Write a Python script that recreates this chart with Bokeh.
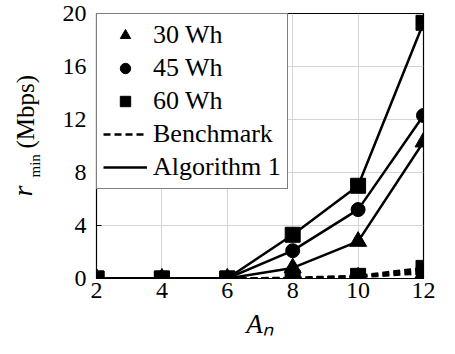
import math
from bokeh.plotting import figure
from bokeh.layouts import row
from bokeh.models import FixedTicker, Label, Legend, LegendItem, Range1d
from bokeh.embed import file_html
from bokeh.resources import INLINE

# ---- data ----
an = [2, 4, 6, 8, 10, 12]
alg_30 = [0, 0, 0, 0.8, 2.8, 10.3]
alg_45 = [0, 0, 0, 2.1, 5.2, 12.3]
alg_60 = [0, 0, 0, 3.3, 7.0, 19.3]
bench_30 = [0, 0, 0, 0.0, 0.1, 0.4]
bench_45 = [0, 0, 0, 0.02, 0.15, 0.6]
bench_60 = [0, 0, 0, 0.05, 0.2, 0.8]
x_ticks = [2, 4, 6, 8, 10, 12]
y_ticks = [0, 4, 8, 12, 16, 20]
series_labels = ["30 Wh", "45 Wh", "60 Wh"]
style_labels = ["Benchmark", "Algorithm 1"]
x_label = "A\u2099"

SERIF = "Liberation Serif"
YLAB_W = 48
P_W = 404
TOP_H = 350
BT, BB = 13, 72
FRAME_BOTTOM = TOP_H - BB

p = figure(width=P_W, height=TOP_H, output_backend="svg", toolbar_location=None,
           x_range=Range1d(2, 12), y_range=Range1d(0, 20),
           min_border_left=96 - YLAB_W, min_border_right=29, min_border_top=BT,
           min_border_bottom=BB)
p.background_fill_color = "white"
p.border_fill_color = "white"
p.outline_line_color = "black"
p.outline_line_width = 1.2

for ax in (p.xaxis, p.yaxis):
    ax.major_label_text_font = SERIF
    ax.major_label_text_font_size = "24px"
    ax.major_label_text_color = "black"
    ax.axis_line_color = "black"
    ax.major_tick_in = 5
    ax.major_tick_out = 0
    ax.minor_tick_line_color = None
    ax.major_tick_line_color = "black"
p.xaxis.ticker = FixedTicker(ticks=x_ticks)
p.yaxis.ticker = FixedTicker(ticks=y_ticks)
p.xaxis.major_label_standoff = 4
p.yaxis.major_label_standoff = 10
p.xaxis.axis_label = x_label
p.xaxis.axis_label_text_font = SERIF
p.xaxis.axis_label_text_font_style = "italic"
p.xaxis.axis_label_text_font_size = "27px"
p.xaxis.axis_label_text_color = "black"
p.xaxis.axis_label_standoff = 8

p.xgrid.ticker = FixedTicker(ticks=x_ticks)
p.ygrid.ticker = FixedTicker(ticks=y_ticks)
p.grid.grid_line_color = "#d4d4d4"
p.grid.grid_line_width = 1

markers = ["triangle", "circle", "square"]
sizes = [17, 14, 15]
LW = 2.5

bench_lines = []
for ys, m, s in zip([bench_30, bench_45, bench_60], markers, sizes):
    bench_lines.append(p.line(an, ys, line_color="black", line_width=LW, line_dash="7 4"))
    p.scatter(an, ys, marker=m, size=s, fill_color="black", line_color="black")
alg_lines = []
alg_marks = []
for ys, m, s in zip([alg_30, alg_45, alg_60], markers, sizes):
    alg_lines.append(p.line(an, ys, line_color="black", line_width=LW))
    alg_marks.append(p.scatter(an, ys, marker=m, size=s, fill_color="black",
                               line_color="black"))

leg_items = [LegendItem(label=lab, renderers=[r], index=0)
             for lab, r in zip(series_labels, alg_marks)]
leg_items.append(LegendItem(label=style_labels[0], renderers=[bench_lines[0]]))
leg_items.append(LegendItem(label=style_labels[1], renderers=[alg_lines[0]]))

legend = Legend(items=leg_items, location="top_left",
                label_text_font=SERIF, label_text_font_size="26px",
                label_text_color="black",
                label_height=26, glyph_height=26, glyph_width=44,
                label_standoff=6, spacing=3, padding=6, margin=0,
                border_line_color="black", border_line_width=1.2,
                background_fill_color="white", background_fill_alpha=1.0)
p.add_layout(legend, "center")

# y axis label strip: r_min (Mbps); its frame is aligned with the plot frame
yfig = figure(width=YLAB_W, height=TOP_H, output_backend="svg", toolbar_location=None,
              x_axis_type=None, y_axis_type=None, min_border=0,
              x_range=Range1d(0, 1), y_range=Range1d(0, 1))
yfig.outline_line_color = None
yfig.grid.visible = False
yfig.background_fill_color = "white"
yfig.border_fill_color = "white"


def ylab(text, base_x, start_y, size, style="normal"):
    yfig.add_layout(Label(x=base_x, y=FRAME_BOTTOM - start_y, x_units="screen",
                          y_units="screen", text=text, angle=math.pi / 2,
                          text_font=SERIF, text_font_style=style,
                          text_font_size=size, text_color="black"))


ylab("r", 37, 196, "28px", "italic")
ylab("min", 42, 177, "15px")
ylab("(Mbps)", 38, 148, "25px")

layout = row(yfig, p, spacing=0)
open("out.html", "w").write(file_html(layout, INLINE))
